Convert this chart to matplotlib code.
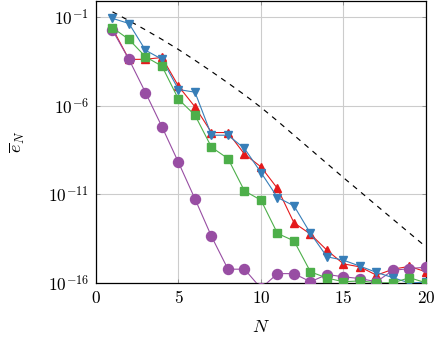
import matplotlib
matplotlib.use("Agg")
import matplotlib.pyplot as plt
import numpy as np

plt.rcParams['mathtext.fontset'] = 'cm'
plt.rcParams['font.family'] = ['DejaVu Serif']

N = list(range(1, 21))

# log10 of error values
blue_log = [-1.05, -1.34, -2.85, -3.36, -5.07, -5.22, -7.65, -7.65, -8.40, -9.76,
            -11.17, -11.64, -13.20, -14.52, -14.71, -15.05, -15.40, -15.70, -16.00, -15.95]
red_log = [-1.62, -3.37, -3.36, -3.26, -4.88, -6.05, -7.50, -7.50, -8.72, -9.44,
           -10.66, -12.60, -13.24, -14.15, -14.92, -15.09, -15.56, -15.22, -15.06, -15.37]
green_log = [-1.58, -2.24, -3.22, -3.75, -5.62, -6.52, -8.33, -8.97, -10.80, -11.32,
             -13.20, -13.62, -15.37, -15.72, -15.93, -15.88, -15.99, -15.99, -15.70, -15.99]
purple_log = [-1.72, -3.37, -5.24, -7.18, -9.19, -11.25, -13.37, -15.22, -15.22, -16.30,
              -15.47, -15.47, -15.93, -15.52, -15.65, -15.75, -15.93, -15.28, -15.19, -15.10]
ref_log = [-0.68, -1.18, -1.70, -2.24, -2.81, -3.42, -4.05, -4.70, -5.37, -6.08,
           -6.85, -7.65, -8.45, -9.25, -10.05, -10.83, -11.62, -12.40, -13.18, -13.96]

xticks = [0, 5, 10, 15, 20]
yticks_exp = [-1, -6, -11, -16]

fig = plt.figure(figsize=(4.43, 3.39), dpi=100)
ax = fig.add_axes([0.2167, 0.1652, 0.9616 - 0.2167, 0.998 - 0.1652])

def p(v):
    return [10.0 ** x for x in v]

ax.plot(N, p(ref_log), color='black', linestyle=(0, (4.5, 4.5)), lw=0.85, zorder=3)
ax.plot(N, p(red_log), color='#e41a1c', marker='^', ms=6.2, lw=0.8, zorder=4)
ax.plot(N, p(purple_log), color='#984ea3', marker='o', ms=7.2, lw=0.8, zorder=5)
ax.plot(N, p(blue_log), color='#377eb8', marker='v', ms=6.2, lw=0.8, zorder=6)
ax.plot(N, p(green_log), color='#4daf4a', marker='s', ms=6.4, lw=0.8, zorder=7)

ax.set_yscale('log')
ax.set_xlim(0, 20)
ax.set_ylim(1e-16, 10 ** -0.05)
ax.set_xticks(xticks)
ax.set_xticklabels([f'${t}$' for t in xticks])
ax.set_yticks([10.0 ** e for e in yticks_exp])
ax.set_yticklabels([f'$10^{{{e}}}$' for e in yticks_exp])
ax.yaxis.set_minor_locator(matplotlib.ticker.NullLocator())
ax.tick_params(axis='both', which='major', direction='in', length=3, width=0.6,
               color='#888888', labelsize=12.5, top=True, right=True, pad=5)
ax.grid(True, color='#cccccc', lw=0.8, zorder=0)
ax.set_axisbelow(True)
for s in ax.spines.values():
    s.set_linewidth(0.9)
    s.set_color('black')
ax.set_xlabel('$N$', fontsize=13, labelpad=8)
ax.set_ylabel(r'$\overline{e}_N$', fontsize=13, labelpad=15)

fig.savefig('out.png', dpi=100)
